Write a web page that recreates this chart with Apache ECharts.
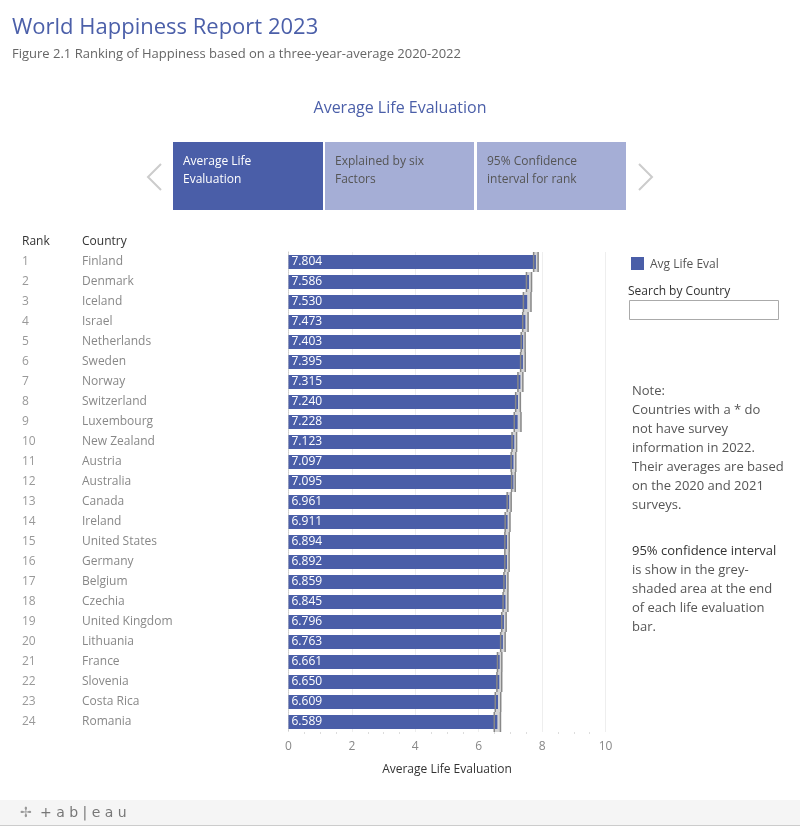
<!DOCTYPE html>
<html><head><meta charset="utf-8">
<script src="https://cdn.jsdelivr.net/npm/echarts@6/dist/echarts.min.js"></script>
<style>html,body{margin:0;padding:0;background:#fff;}#c{width:800px;height:827px;}</style>
</head><body><div id="c"></div>
<script>
const ranks = [1,2,3,4,5,6,7,8,9,10,11,12,13,14,15,16,17,18,19,20,21,22,23,24];
const countries = ["Finland","Denmark","Iceland","Israel","Netherlands","Sweden","Norway","Switzerland","Luxembourg","New Zealand","Austria","Australia","Canada","Ireland","United States","Germany","Belgium","Czechia","United Kingdom","Lithuania","France","Slovenia","Costa Rica","Romania"];
const lifeEval = [7.804,7.586,7.530,7.473,7.403,7.395,7.315,7.240,7.228,7.123,7.097,7.095,6.961,6.911,6.894,6.892,6.859,6.845,6.796,6.763,6.661,6.650,6.609,6.589];
const ciLow = [7.733,7.506,7.410,7.388,7.341,7.322,7.237,7.166,7.122,7.051,7.024,7.037,6.898,6.835,6.825,6.824,6.795,6.769,6.726,6.692,6.592,6.574,6.523,6.491];
const ciHigh = [7.875,7.667,7.650,7.558,7.465,7.468,7.393,7.314,7.334,7.195,7.170,7.153,7.024,6.987,6.963,6.960,6.923,6.921,6.866,6.834,6.730,6.726,6.695,6.687];
const xTicks = [0,2,4,6,8,10];

const BLUE = '#4a5ea8';
const ciData = countries.map((c,i)=>[i, ciLow[i], ciHigh[i]]);
const labels = countries.map((c,i)=>ranks[i] + '|' + c);
const F = '"Open Sans", sans-serif';

const chart = echarts.init(document.getElementById('c'));
const noteLines = ["Note:","Countries with a * do","not have survey","information in 2022.","Their averages are based","on the 2020 and 2021","surveys."];
const note2 = ["is show in the grey-","shaded area at the end","of each life evaluation","bar."];
const graphics = [
  {type:'text', left:12, top:17, style:{text:'World Happiness Report 2023', font:'22px '+F, fill:'#4b5fa9'}},
  {type:'text', left:12, top:48, style:{text:'Figure 2.1 Ranking of Happiness based on a three-year-average 2020-2022', font:'13px '+F, fill:'#666'}},
  {type:'text', x:400, y:108, style:{text:'Average Life Evaluation', font:'16px '+F, fill:'#4b5fa9', align:'center', verticalAlign:'middle'}},
  {type:'rect', shape:{x:173,y:142,width:150,height:68}, style:{fill:BLUE}},
  {type:'rect', shape:{x:325,y:142,width:149,height:68}, style:{fill:'#a5aed6'}},
  {type:'rect', shape:{x:477,y:142,width:149,height:68}, style:{fill:'#a5aed6'}},
  {type:'text', x:183, y:162, style:{text:'Average Life', font:'12px '+F, fill:'#fff', verticalAlign:'middle'}},
  {type:'text', x:183, y:180, style:{text:'Evaluation', font:'12px '+F, fill:'#fff', verticalAlign:'middle'}},
  {type:'text', x:335, y:162, style:{text:'Explained by six', font:'12px '+F, fill:'#555', verticalAlign:'middle'}},
  {type:'text', x:335, y:180, style:{text:'Factors', font:'12px '+F, fill:'#555', verticalAlign:'middle'}},
  {type:'text', x:487, y:162, style:{text:'95% Confidence', font:'12px '+F, fill:'#555', verticalAlign:'middle'}},
  {type:'text', x:487, y:180, style:{text:'interval for rank', font:'12px '+F, fill:'#555', verticalAlign:'middle'}},
  {type:'polyline', shape:{points:[[161,164],[148,177],[161,190]]}, style:{stroke:'#ccc', lineWidth:2, fill:null}},
  {type:'polyline', shape:{points:[[639,164],[652,177],[639,190]]}, style:{stroke:'#ccc', lineWidth:2, fill:null}},
  {type:'text', x:22, y:242, style:{text:'Rank', font:'12px '+F, fill:'#333', verticalAlign:'middle'}},
  {type:'text', x:82, y:242, style:{text:'Country', font:'12px '+F, fill:'#333', verticalAlign:'middle'}},
  {type:'rect', shape:{x:631,y:257,width:13,height:13}, style:{fill:BLUE}},
  {type:'text', x:650, y:265, style:{text:'Avg Life Eval', font:'12px '+F, fill:'#555', verticalAlign:'middle'}},
  {type:'text', x:628, y:292, style:{text:'Search by Country', font:'12px '+F, fill:'#333', verticalAlign:'middle'}},
  {type:'rect', shape:{x:629.5,y:300.5,width:149,height:19}, style:{fill:'#fff', stroke:'#aaa', lineWidth:1}},
  {type:'rect', shape:{x:0,y:800,width:800,height:25}, style:{fill:'#f5f5f5'}},
  {type:'line', shape:{x1:0,y1:825.5,x2:800,y2:825.5}, style:{stroke:'#ccc', lineWidth:1}},
  {type:'text', x:20, y:813, style:{text:'✢', font:'14px "DejaVu Sans", sans-serif', fill:'#999', verticalAlign:'middle'}},
  {type:'text', x:40, y:813, style:{text:'+ a b | e a u', font:'14px "DejaVu Sans", sans-serif', fill:'#777', verticalAlign:'middle'}}
];
noteLines.forEach((t,i)=>graphics.push({type:'text', x:632, y:391+i*19, style:{text:t, font:'13px '+F, fill:'#555', verticalAlign:'middle'}}));
graphics.push({type:'text', x:632, y:551, style:{text:'95% confidence interval', font:'13px '+F, fill:'#333', verticalAlign:'middle'}});
note2.forEach((t,i)=>graphics.push({type:'text', x:632, y:570+i*19, style:{text:t, font:'13px '+F, fill:'#555', verticalAlign:'middle'}}));

chart.setOption({
  animation:false,
  backgroundColor:'#fff',
  textStyle:{fontFamily:F},
  grid:{left:288.5, right:194.5, top:252, bottom:95, containLabel:false},
  xAxis:{type:'value', min:xTicks[0], max:xTicks[xTicks.length-1], interval:2,
    name:'Average Life Evaluation', nameLocation:'middle', nameGap:32,
    nameTextStyle:{color:'#333', fontSize:12},
    axisLabel:{color:'#888', fontSize:12, margin:9},
    axisLine:{show:false}, axisTick:{show:false},
    minorTick:{show:true, splitNumber:4, length:2, lineStyle:{color:'#ddd'}},
    splitLine:{show:true, lineStyle:{color:'#eeeeee', width:1}}},
  yAxis:{type:'category', data:labels, inverse:true,
    axisTick:{show:false},
    axisLine:{show:true, lineStyle:{color:'#ccc', type:'dotted', width:1}},
    axisLabel:{align:'left', margin:266.5, fontSize:12,
      formatter:(v)=>{const p=v.split('|'); return '{r|'+p[0]+'}{c|'+p[1]+'}';},
      rich:{r:{width:60, color:'#999', fontSize:12}, c:{color:'#888', fontSize:12}}}},
  graphic:graphics,
  series:[
    {type:'custom', z:1, data:ciData, encode:{x:[1,2], y:0},
      renderItem:(params, api)=>{
        const lo = api.coord([api.value(1), api.value(0)]);
        const hi = api.coord([api.value(2), api.value(0)]);
        const h = api.size([0,1])[1];
        return {type:'group', children:[
          {type:'rect', shape:{x:lo[0], y:lo[1]-h/2, width:hi[0]-lo[0], height:h}, style:{fill:'#d5d5d5'}},
          {type:'line', shape:{x1:hi[0], y1:hi[1]-h/2, x2:hi[0], y2:hi[1]+h/2}, style:{stroke:'#888', lineWidth:1.5}}
        ]};
      }},
    {type:'bar', z:2, data:lifeEval, barWidth:14, itemStyle:{color:BLUE},
      label:{show:true, position:'insideLeft', distance:3, color:'#fff', fontSize:12,
        formatter:(p)=>p.value.toFixed(3)}},
    {type:'custom', z:3, data:ciData, encode:{x:[1,2], y:0},
      renderItem:(params, api)=>{
        const lo = api.coord([api.value(1), api.value(0)]);
        const h = api.size([0,1])[1];
        return {type:'line', shape:{x1:lo[0], y1:lo[1]-h/2, x2:lo[0], y2:lo[1]+h/2}, style:{stroke:'#888', lineWidth:1.5}};
      }}
  ]
});
</script></body></html>
